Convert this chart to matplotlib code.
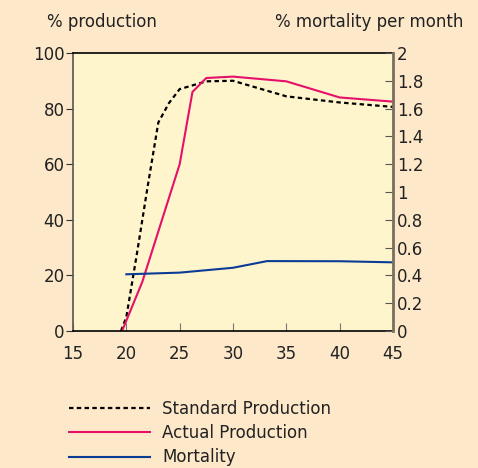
import matplotlib
matplotlib.use('Agg')
import matplotlib.pyplot as plt
import matplotlib.ticker as ticker

# age in weeks
std_age = [19.5, 20, 21, 22, 23, 24, 25, 27.5, 30, 35, 40, 45]
std_prod = [0, 5, 28, 52, 75, 82, 87, 89.8, 90, 84.4, 82.2, 80.6]

act_age = [19.6, 21.5, 25, 26.2, 27.5, 30, 35, 40, 45]
act_prod = [0, 17.7, 60, 86, 91, 91.5, 89.8, 84.0, 82.5]

mort_age = [20, 25, 30, 33.2, 40, 45]
mortality = [0.408, 0.42, 0.455, 0.503, 0.502, 0.494]

x_ticks = [15, 20, 25, 30, 35, 40, 45]
left_ticks = [0, 20, 40, 60, 80, 100]
right_ticks = [0, 0.2, 0.4, 0.6, 0.8, 1, 1.2, 1.4, 1.6, 1.8, 2]

fig_bg = '#fde8c9'
ax_bg = '#fff5cc'
txt = '#222222'

plt.rcParams['font.family'] = ['DejaVu Sans']
plt.rcParams['font.size'] = 12

fig = plt.figure(figsize=(4.78, 4.68), dpi=100, facecolor=fig_bg)
ax = fig.add_axes([0.1527, 0.2927, 0.6695, 0.5941])
ax.set_facecolor(ax_bg)

l1, = ax.plot(std_age, std_prod, color='black', linestyle=(0, (2, 1.5)), linewidth=1.6)
l2, = ax.plot(act_age, act_prod, color='#e5106a', linewidth=1.5)

ax.set_xlim(15, 45)
ax.set_ylim(0, 100)
ax.set_xticks(x_ticks)
ax.set_yticks(left_ticks)
ax.tick_params(axis='x', direction='in', length=6, color='#777777', labelcolor=txt, pad=10)
ax.tick_params(axis='y', direction='out', length=5, color='#333333', labelcolor=txt, pad=1)

ax2 = ax.twinx()
l3, = ax2.plot(mort_age, mortality, color='#0a3c96', linewidth=1.5)
ax2.set_ylim(0, 2)
ax2.set_yticks(right_ticks)
ax2.yaxis.set_major_formatter(ticker.FuncFormatter(lambda v, p: ('%g' % v)))
ax2.tick_params(axis='y', direction='in', length=6, color='#555555', labelcolor=txt, pad=3)

for s in ['top', 'bottom']:
    ax.spines[s].set_color('black')
    ax.spines[s].set_linewidth(1.2)
ax.spines['left'].set_color('#555555')
ax.spines['left'].set_linewidth(1.2)
ax2.spines['right'].set_color('#7a7060')
ax2.spines['right'].set_linewidth(2)
for s in ['top', 'bottom', 'left']:
    ax2.spines[s].set_visible(False)

fig.text(0.098, 0.952, '% production', fontsize=12, color=txt, va='center')
fig.text(0.576, 0.952, '% mortality per month', fontsize=12, color=txt, va='center')

fig.legend([l1, l2, l3], ['Standard Production', 'Actual Production', 'Mortality'],
           loc='upper left', bbox_to_anchor=(0.13, 0.16), frameon=False,
           handlelength=4.9, handletextpad=0.7, labelspacing=0.38, fontsize=12,
           borderaxespad=0, labelcolor=txt)

fig.savefig('out.png', dpi=100, facecolor=fig_bg)
